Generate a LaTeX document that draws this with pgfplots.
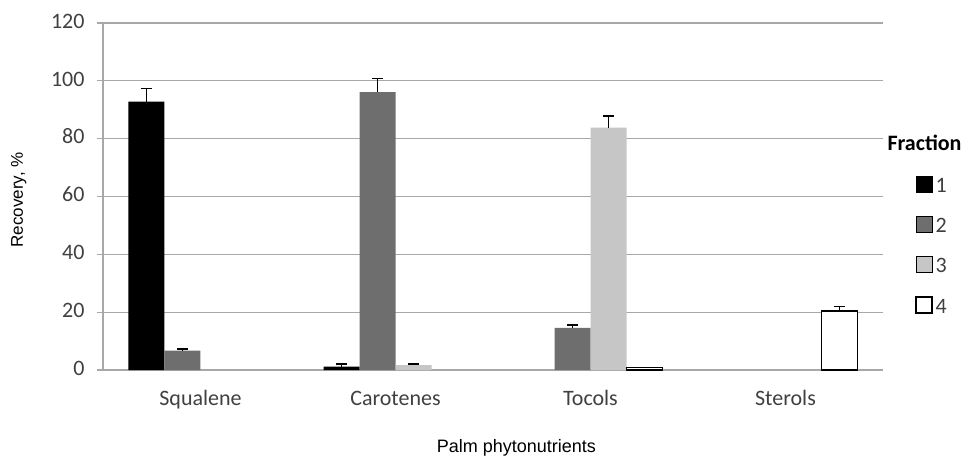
\documentclass[border=0pt]{standalone}
\usepackage{fontspec}
\setmainfont{Carlito}
\newfontfamily\arialf{Liberation Sans}
\usepackage{pgfplots}
\pgfplotsset{compat=1.18}
\definecolor{fracB}{HTML}{6E6E6E}
\definecolor{fracC}{HTML}{C6C6C6}
\definecolor{gridc}{HTML}{A8A8A8}
\definecolor{txt}{HTML}{404040}
\begin{document}
\begin{tikzpicture}
\path[use as bounding box] (-103bp,-90bp) rectangle (860bp,370bp);
\begin{axis}[
  at={(0,0)}, anchor=south west,
  scale only axis, width=780bp, height=347bp,
  xmin=-0.5, xmax=3.5, ymin=0, ymax=120,
  ybar=0pt, bar width=36bp,
  axis lines=left,
  axis line style={draw=none},
  x axis line style={draw=none}, y axis line style={draw=none},
  ytick pos=left, xtick pos=bottom,
  xmajorgrids=false,
  xtick={0,1,2,3},
  xticklabels={Squalene,Carotenes,Tocols,Sterols},
  major x tick style={draw=none},
  extra x ticks={-0.5}, extra x tick labels={},
  extra x tick style={xmajorgrids=true, major tick length=0pt, grid style={gridc, line width=1.2bp}},
  ytick={0,20,40,60,80,100,120},
  ymajorgrids, grid style={gridc, line width=1.2bp},
  major y tick style={gridc, line width=1.2bp},
  tick align=outside, major tick length=6bp,
  /pgf/number format/assume math mode=true,
  typeset ticklabels with strut,
  tick label style={font=\fontsize{22bp}{26bp}\selectfont, text=txt},
  xticklabel style={yshift=-8bp},
  yticklabel style={xshift=-9bp},
  xlabel={\arialf Palm phytonutrients},
  ylabel={\arialf Recovery, \%},
  label style={font=\fontsize{17bp}{20bp}\selectfont, text=black},
  xlabel style={at={(axis description cs:0.53,-0.225)}, anchor=center, font=\fontsize{18bp}{20bp}\selectfont},
  ylabel style={at={(axis description cs:-0.108,0.49)}, anchor=center},
  error bars/error bar style={black, line width=1.5bp},
  error bars/error mark options={rotate=90, mark size=5.5bp, line width=1.5bp, black},
  legend image code/.code={\draw[#1] (0bp,-6bp) rectangle (16bp,10bp);},
  legend style={draw=none, fill=none, at={(1,0.357)}, anchor=west, xshift=32bp,
    font=\fontsize{22bp}{26bp}\selectfont, text=txt,
    row sep=21bp, column sep=2bp, inner sep=0pt,
    nodes={inner sep=1bp}},
  legend cell align=left,
  clip=false,
]
\addplot[fill=black, draw=none, error bars/.cd, y dir=plus, y explicit]
  coordinates {(0,92.8) +- (0,4.6) (1,1.2) +- (0,0.9)};
\addlegendentry{1}
\addplot[fill=fracB, draw=none, error bars/.cd, y dir=plus, y explicit]
  coordinates {(0,6.7) +- (0,0.6) (1,96.1) +- (0,4.7) (2,14.6) +- (0,1.0)};
\addlegendentry{2}
\addplot[fill=fracC, draw=none, error bars/.cd, y dir=plus, y explicit]
  coordinates {(1,1.7) +- (0,0.4) (2,83.8) +- (0,4.1)};
\addlegendentry{3}
\addplot[fill=white, draw=black, line width=1.3bp, error bars/.cd, y dir=plus, y explicit]
  coordinates {(2,0.8) +- (0,0) (3,20.4) +- (0,1.5)};
\addlegendentry{4}
\node[anchor=west, font=\bfseries\fontsize{22bp}{26bp}\selectfont, text=black]
  at (rel axis cs:1,0.654) [xshift=1bp] {Fraction};
\end{axis}
\end{tikzpicture}
\end{document}
